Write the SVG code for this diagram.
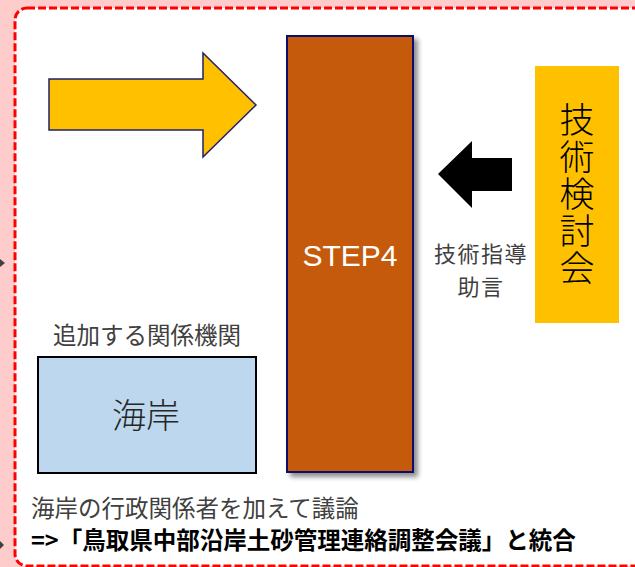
<svg xmlns="http://www.w3.org/2000/svg" width="635" height="567" viewBox="0 0 635 567">
  <defs>
    <filter id="shadow" x="-20%" y="-5%" width="150%" height="115%">
      <feGaussianBlur in="SourceAlpha" stdDeviation="2.5"/>
      <feOffset dx="4" dy="4" result="b"/>
      <feComponentTransfer><feFuncA type="linear" slope="0.45"/></feComponentTransfer>
      <feMerge><feMergeNode/><feMergeNode in="SourceGraphic"/></feMerge>
    </filter>
  </defs>
  <style>
    .jp { font-family: "Noto Sans CJK JP", "Noto Sans", sans-serif; }
    .gray { fill: #404040; }
    .blk { fill: #000000; }
  </style>
  <rect x="0" y="0" width="635" height="567" fill="#FFCCCC"/>
  <rect x="15" y="8" width="660" height="558" rx="12" ry="12" fill="#FFFFFF" stroke="#FF0000" stroke-width="3" stroke-dasharray="8 3"/>

  <g id="connectors">
    <path id="arrow-yellow" d="M49,79 L203,79 L203,53 L256,105 L203,157 L203,130 L49,130 Z" fill="#FFC000" stroke="#1F1F6E" stroke-width="1.5" stroke-linejoin="miter"/>
    <path id="arrow-black" d="M438,174 L472,141 L472,158 L512,158 L512,191 L472,191 L472,208 Z" fill="#000000"/>
    <path d="M0,259 L5,263 L0,267 Z" fill="#404040"/>
    <path d="M0,541 L4,545 L0,549 Z" fill="#404040"/>
  </g>

  <g id="step4">
    <rect x="287" y="36" width="126" height="436" fill="#C55A11" stroke="#0C0C6E" stroke-width="2" filter="url(#shadow)"/>
    <text x="350" y="266" text-anchor="middle" font-family="'Liberation Sans', Arial, sans-serif" font-size="30" fill="#FFFFFF">STEP4</text>
  </g>

  <g id="gijutsu-kentoukai">
    <rect x="535" y="66" width="84" height="257" fill="#FFC000"/>
    <text class="jp blk" x="577" y="102" font-size="35" font-weight="300" writing-mode="vertical-rl" letter-spacing="2">技術検討会</text>
  </g>

  <g id="label-shidou">
    <text class="jp gray" x="481" y="262" font-size="22" letter-spacing="1.5" text-anchor="middle">技術指導</text>
    <text class="jp gray" x="481" y="294.5" font-size="22" letter-spacing="1.5" text-anchor="middle">助言</text>
  </g>

  <g id="kaigan">
    <text class="jp gray" x="147" y="344" font-size="23.5" text-anchor="middle">追加する関係機関</text>
    <rect x="38" y="357" width="218" height="116" fill="#BDD7EE" stroke="#000000" stroke-width="2"/>
    <text class="jp" x="146" y="428" font-size="34" text-anchor="middle" fill="#262626" font-weight="300">海岸</text>
  </g>

  <g id="notes">
    <text class="jp gray" x="31" y="517" font-size="23.5">海岸の行政関係者を加えて議論</text>
    <text class="jp blk" x="31" y="549" font-size="23.5" font-weight="bold">=&gt;「鳥取県中部沿岸土砂管理連絡調整会議」と統合</text>
  </g>
</svg>
